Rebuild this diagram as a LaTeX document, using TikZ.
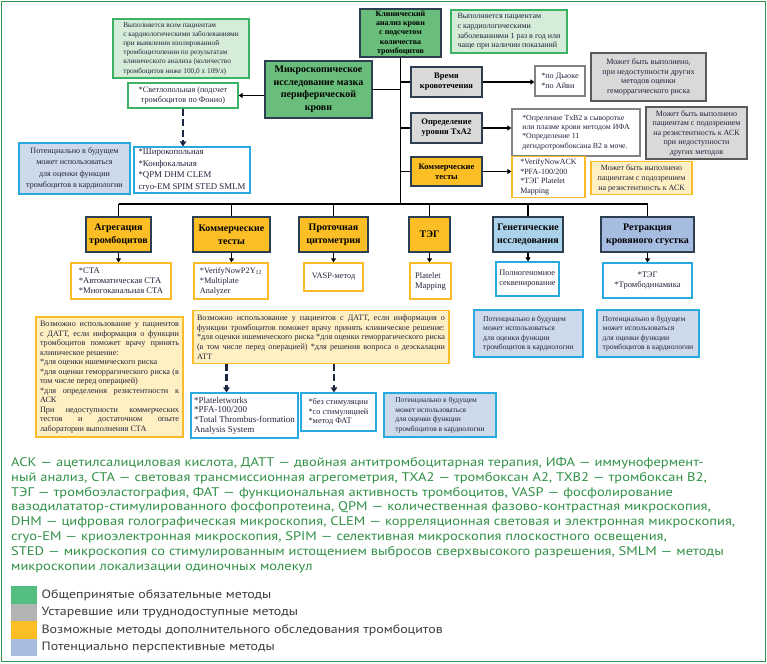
\documentclass[tikz,border=0pt]{standalone}
\usepackage{fontspec}
\setmainfont{Liberation Serif}
\newfontfamily\legendfont[FakeStretch=1.16]{PT Sans}
\usetikzlibrary{arrows.meta,positioning}

\definecolor{edge}{RGB}{44,62,80}
\definecolor{mgreen}{RGB}{104,190,122}
\definecolor{lgreen}{RGB}{213,237,216}
\definecolor{ngreen}{RGB}{60,178,100}
\definecolor{fgreen}{RGB}{46,150,80}
\definecolor{hgray}{RGB}{217,217,217}
\definecolor{ngray}{RGB}{90,90,90}
\definecolor{rgray}{RGB}{130,130,130}
\definecolor{horange}{RGB}{251,190,36}
\definecolor{lorange}{RGB}{255,240,195}
\definecolor{norange}{RGB}{250,188,40}
\definecolor{hblue}{RGB}{170,210,235}
\definecolor{hblueb}{RGB}{166,188,224}
\definecolor{lblue}{RGB}{205,218,236}
\definecolor{nblue}{RGB}{40,170,225}
\definecolor{ink}{RGB}{35,35,60}
\definecolor{dashink}{RGB}{28,40,66}
\definecolor{legtext}{RGB}{48,145,70}
\definecolor{legdark}{RGB}{60,60,60}
\definecolor{leggreen}{RGB}{84,190,130}
\definecolor{leggray}{RGB}{178,180,180}
\definecolor{legblue}{RGB}{169,188,224}

\newcommand{\sz}[2]{\fontsize{#1}{#2}\selectfont}
\hyphenpenalty=10000
\exhyphenpenalty=10000

\begin{document}
\begin{tikzpicture}[x=1pt,y=-1pt,
  head/.style={draw=edge, line width=1.3pt, align=center, inner sep=1pt, text=black},
  res/.style={draw, fill=white, line width=1.2pt, inner sep=2pt, align=left, text=ink},
  note/.style={line width=1.2pt, inner sep=3pt, align=center, text=ink},
  link/.style={line width=1.3pt},
  arr/.style={line width=1.8pt, -{Triangle[length=4pt,width=5pt]}},
  dasharr/.style={draw=dashink, line width=2.4pt, dash pattern=on 7pt off 3.5pt,
    -{Triangle[length=5pt,width=6.5pt]}}]

  \useasboundingbox (0,0) rectangle (767,663);
  \draw[fgreen, line width=1.4pt] (1.5,1.5) rectangle (765.5,661.5);

  % top part
  \node (klin) at (400.5,33) [head, fill=mgreen, font=\bfseries\sz{8}{9.3},
    inner sep=0pt, minimum width=81pt, minimum height=48pt]
    {Клинический\\ анализ крови\\ с подсчетом\\ количества\\ тромбоцитов};
  \node (mikro) at (318.5,89.5) [head, fill=mgreen, font=\bfseries\sz{10}{12.5},
    minimum width=107pt, minimum height=57pt]
    {Микроскопическое\\ исследование мазка\\ периферической\\ крови};
  \node (noteall) at (181,48.5) [note, draw=ngreen, fill=lgreen, align=left,
    font=\sz{7.3}{9.2}, minimum width=136pt, minimum height=59pt]
    {Выполняется всем пациентам\\ с кардиологическими заболеваниями\\
     при выявлении изолированной\\ тромбоцитопении по результатам\\
     клинического анализа (количество\\ тромбоцитов ниже 100,0 х 109/л)};
  \node (noteyear) at (509,31.5) [note, draw=ngreen, fill=lgreen, align=left,
    font=\sz{8}{9.6}, minimum width=116pt, minimum height=43pt]
    {Выполняется пациентам\\ с кардиологическими\\
     заболеваниями 1 раз в год или\\ чаще при наличии показаний};
  \node (svet) at (183,95.5) [res, draw=ngreen, align=center, font=\sz{8.2}{10.5},
    minimum width=110pt, minimum height=25pt]
    {*Светлопольная (подсчет\\ тромбоцитов по Фонио)};
  \node (shiroko) at (192,170) [res, draw=nblue, font=\sz{8.8}{11.4},
    minimum width=116pt, minimum height=46pt]
    {*Широкопольная\\ *Конфокальная\\ *QPM DHM CLEM\\ cryo-EM SPIM STED SMLM};
  \node (pota) at (74.5,168.5) [note, draw=nblue, fill=lblue, font=\sz{8.1}{11.4},
    minimum width=111pt, minimum height=51pt]
    {Потенциально в будущем\\ может использоваться\\ для оценки функции\\
     тромбоцитов в кардиологии};

  % right column
  \node (vrem) at (446.5,82) [head, fill=hgray, font=\bfseries\sz{8.5}{10},
    minimum width=71pt, minimum height=30pt] {Время\\ кровотечения};
  \node (txa) at (446.5,128) [head, fill=hgray, font=\bfseries\sz{8.5}{10},
    minimum width=71pt, minimum height=30pt] {Определение\\ уровня TxA2};
  \node (kom) at (446.5,171.5) [head, fill=horange, font=\bfseries\sz{8.5}{10},
    minimum width=71pt, minimum height=29pt] {Коммерческие\\ тесты};
  \node (vremres) at (560,81) [res, draw=rgray, font=\sz{8.2}{9.3},
    minimum width=50pt, minimum height=30pt] {*по Дьюке\\ *по Айви};
  \node (txares) at (576,132.5) [res, draw=rgray, font=\sz{7.8}{9.3},
    minimum width=128pt, minimum height=47pt]
    {*Опреление TxB2 в сыворотке\\ или плазме крови методом ИФА\\
     *Определение 11\\ дегидротромбоксана B2 в моче.};
  \node (komres) at (548.5,177) [res, draw=norange, font=\sz{8}{9.7},
    minimum width=73pt, minimum height=40pt]
    {*VerifyNowACK\\ *PFA-100/200\\ *ТЭГ Platelet\\ Mapping};
  \node (vremnote) at (648.5,77) [note, draw=ngray, fill=hgray, font=\sz{8.1}{9.6},
    minimum width=115pt, minimum height=48pt]
    {Может быть выполнено,\\ при недоступности других\\ методов оценки\\
     геморрагического риска};
  \node (txanote) at (696.5,133) [note, draw=ngray, fill=hgray, font=\sz{8}{9.5},
    minimum width=101pt, minimum height=52pt]
    {Может быть выполнено\\ пациентам с подозрением\\ на резистентность к АСК\\
     при недоступности\\ других методов};
  \node (komnote) at (641.5,178) [note, draw=norange, fill=lorange, font=\sz{8}{10},
    minimum width=101pt, minimum height=30pt]
    {Может быть выполнено\\ пациентам с подозрением\\ на резистентность к АСК};

  % bottom row
  \node (agr) at (118.5,234.5) [head, fill=horange, font=\bfseries\sz{10}{13},
    minimum width=65pt, minimum height=35pt] {Агрегация\\ тромбоцитов};
  \node (kom2) at (231.5,234.5) [head, fill=horange, font=\bfseries\sz{10}{13},
    minimum width=77pt, minimum height=35pt] {Коммерческие\\ тесты};
  \node (proto) at (333.5,234.5) [head, fill=horange, font=\bfseries\sz{10}{13},
    minimum width=69pt, minimum height=35pt] {Проточная\\ цитометрия};
  \node (teg) at (429.5,234.5) [head, fill=horange, font=\bfseries\sz{10}{13},
    minimum width=41pt, minimum height=35pt] {ТЭГ};
  \node (gen) at (528,234.5) [head, fill=hblue, font=\bfseries\sz{10}{13},
    minimum width=70pt, minimum height=35pt] {Генетические\\ исследования};
  \node (retr) at (647.5,234.5) [head, fill=hblueb, font=\bfseries\sz{10}{13},
    minimum width=93pt, minimum height=35pt] {Ретракция\\ кровяного сгустка};

  \node (agrres) at (121,281) [res, draw=norange, font=\sz{8.6}{10},
    minimum width=100pt, minimum height=36pt]
    {*СТА\\ *Автоматическая СТА\\ *Многоканальная СТА};
  \node (kom2res) at (231,281) [res, draw=norange, font=\sz{8.3}{10},
    minimum width=74pt, minimum height=36pt]
    {*VerifyNowP2Y\textsubscript{12}\\ *Multiplate\\ Analyzer};
  \node (protores) at (333.5,277) [res, draw=norange, font=\sz{8.3}{10},
    minimum width=59pt, minimum height=28pt] {VASP-метод};
  \node (tegres) at (430.5,281) [res, draw=norange, font=\sz{8.5}{10},
    minimum width=41pt, minimum height=36pt] {Platelet\\ Mapping};
  \node (genres) at (527.5,279) [res, draw=nblue, font=\sz{8.3}{10},
    minimum width=63pt, minimum height=34pt] {Полногеномное\\ секвенирование};
  \node (retrres) at (647.5,280.5) [res, draw=nblue, align=center, font=\sz{8.5}{10},
    minimum width=89pt, minimum height=35pt] {*ТЭГ\\ *Тромбодинамика};

  % lower notes
  \node (datta) at (109.5,377) [note, draw=norange, fill=lorange, align=justify,
    inner sep=4pt, text width=139pt, font=\sz{8.2}{9.5}, minimum height=120pt]
    {Возможно использование у пациентов с ДАТТ, если информация о функции
     тромбоцитов поможет врачу принять клиническое решение:\\{}%
     *для оценки ишемического риска\\{}%
     *для оценки геморрагического риска (в том числе перед операцией)\\{}%
     *для определения резистентности к АСК\\
     При недоступности коммерческих тестов и достаточном опыте лаборатории
     выполнения СТА};
  \node (dattb) at (321,337) [note, draw=norange, fill=lorange, align=justify,
    inner sep=4pt, text width=248pt, font=\sz{8.15}{9.7}, minimum height=50pt]
    {Возможно использование у пациентов с ДАТТ, если информация о функции
     тромбоцитов поможет врачу принять клиническое решение: *для оценки
     ишемического риска *для оценки геморрагического риска (в том числе перед
     операцией) *для решения вопроса о деэскалации\linebreak АТТ};
  \node (plt) at (244.5,415.5) [res, draw=nblue, font=\sz{9}{9.6},
    minimum width=107pt, minimum height=45pt]
    {*Plateletworks\\ *PFA-100/200\\ *Total Thrombus-formation\\ Analysis System};
  \node (stim) at (338.5,412) [res, draw=nblue, font=\sz{8.3}{9.7},
    minimum width=75pt, minimum height=38pt]
    {*без стимуляции\\ *со стимуляцией\\ *метод ФАТ};
  \node (potb) at (440,415) [note, draw=nblue, fill=lblue, align=left,
    font=\sz{7.5}{9.5}, minimum width=112pt, minimum height=44pt]
    {Потенциально в будущем\\ может использоваться\\ для оценки функции\\
     тромбоцитов в кардиологии};
  \node (potc) at (528.5,333.5) [note, draw=nblue, fill=lblue, align=left,
    font=\sz{7.6}{9.5}, minimum width=109pt, minimum height=47pt]
    {Потенциально в будущем\\ может использоваться\\ для оценки функции\\
     тромбоцитов в кардиологии};
  \node (potd) at (648,333.5) [note, draw=nblue, fill=lblue, align=left,
    font=\sz{7.6}{9.5}, minimum width=102pt, minimum height=47pt]
    {Потенциально в будущем\\ может использоваться\\ для оценки функции\\
     тромбоцитов в кардиологии};

  % connectors
  \coordinate (bus) at (400.5,204);
  \draw[line width=1.7pt] (klin.south) -- (bus);
  \draw[link] (mikro.east) -- (mikro.east -| bus);
  \foreach \n in {vrem,txa,kom}
    \draw[link] (\n.west -| bus) -- (\n.west);
  \draw[link] (agr.north |- bus) -- (retr.north |- bus);
  \foreach \n in {agr,kom2,proto,teg,gen,retr}
    \draw[link] (\n.north |- bus) -- (\n.north);

  \draw[arr] (mikro.west |- svet.east) -- (svet.east);
  \foreach \h/\r in {vrem/vremres,txa/txares,kom/komres}
    \draw[arr] (\h.east) -- (\h.east -| \r.west);
  \foreach \h/\r in {agr/agrres,kom2/kom2res,proto/protores,teg/tegres,gen/genres,retr/retrres}
    \draw[arr] (\h.south) -- (\h.south |- \r.north);

  \draw[dasharr] (svet.south) -- (svet.south |- shiroko.north);
  \draw[dasharr] ([xshift=-18pt]plt.north |- dattb.south) -- ([xshift=-18pt]plt.north);
  \draw[dasharr] ([xshift=-4.5pt]stim.north |- dattb.south) -- ([xshift=-4.5pt]stim.north);

  % legend
  \node (abbr) at (11,457) [anchor=north west, inner sep=0pt, align=left,
    text=legtext, font=\legendfont\sz{12.5}{14.9}]
    {АСК — ацетилсалициловая кислота, ДАТТ — двойная антитромбоцитарная терапия, ИФА — иммунофермент-\\
     ный анализ, СТА — световая трансмиссионная агрегометрия, ТХА2 — тромбоксан А2, ТХВ2 — тромбоксан В2,\\
     ТЭГ — тромбоэластография, ФАТ — функциональная активность тромбоцитов, VASP — фосфолирование\\
     вазодилататор-стимулированного фосфопротеина, QPM — количественная фазово-контрастная микроскопия,\\
     DHM — цифровая голографическая микроскопия, CLEM — корреляционная световая и электронная микроскопия,\\
     cryo-EM — криоэлектронная микроскопия, SPIM — селективная микроскопия плоскостного освещения,\\
     STED — микроскопия со стимулированным истощением выбросов сверхвысокого разрешения, SMLM — методы\\
     микроскопии локализации одиночных молекул};
  \foreach \c/\t [count=\i] in {leggreen/Общепринятые обязательные методы,
      leggray/Устаревшие или труднодоступные методы,
      horange/Возможные методы дополнительного обследования тромбоцитов,
      legblue/Потенциально перспективные методы} {
    \node (sq\i) at (11,{586+17.5*(\i-1)}) [anchor=north west, fill=\c,
      minimum width=26pt, minimum height=17.5pt, inner sep=0pt] {};
    \node (leg\i) [right=4pt of sq\i, inner sep=0pt, text=legdark,
      font=\legendfont\sz{12}{14}] {\t};
  }

\end{tikzpicture}
\end{document}
